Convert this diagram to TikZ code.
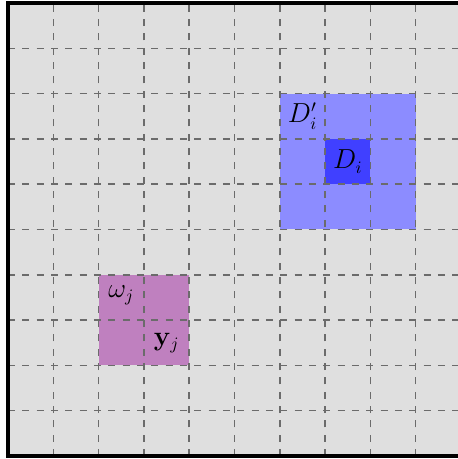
\documentclass[tikz,border=0pt]{standalone}
\usepackage{amsmath}
\tikzset{
  gridline/.style={draw=black!58, line width=0.95pt, dash pattern=on 4.4pt off 4.6pt},
  frameline/.style={draw=black, line width=2.4pt},
  lbl/.style={font=\fontsize{16}{19}\selectfont, inner sep=0pt}
}
\begin{document}
\begin{tikzpicture}
\useasboundingbox (-0.177,-0.066) rectangle (9.912,10.066);
\fill[gray!25] (0,0) rectangle (10,10);
\fill[blue!45] (6,5) rectangle (9,8);
\fill[blue!75] (7,6) rectangle (8,7);
\fill[violet!50] (2,2) rectangle (4,4);
\foreach \i in {1,...,9} {
  \draw[gridline] (\i,0) -- (\i,10);
  \draw[gridline] (0,\i) -- (10,\i);
}
\draw[frameline] (0,0) rectangle (10,10);
\node[lbl] (dp) at (6.5,7.5) {$D_i'$};
\node[lbl] (d) at (7.5,6.5) {$D_i$};
\node[lbl] (w) at (2.5,3.55) {$\omega_j$};
\node[lbl] (y) at (3.5,2.5) {$\mathbf{y}_j$};
\end{tikzpicture}
\end{document}
